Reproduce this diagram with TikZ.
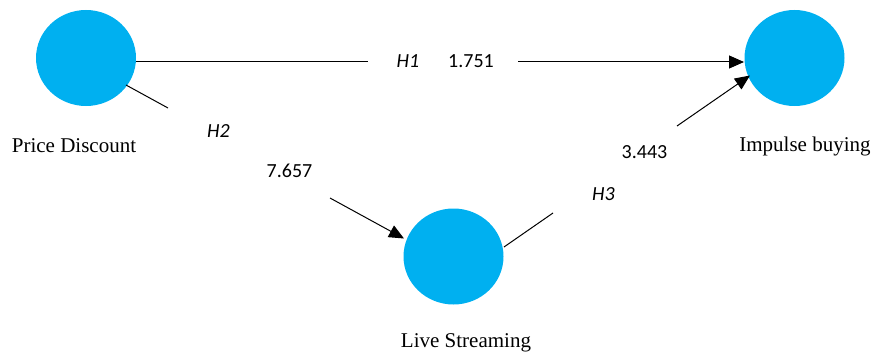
\documentclass[tikz,border=0pt]{standalone}
\usepackage{fontspec}
\setmainfont{Liberation Serif}
\newfontfamily\numfont{Carlito}
\usetikzlibrary{arrows.meta,shapes.geometric}
\definecolor{lvblue}{HTML}{00B0F0}
\tikzset{
  latent/.style={ellipse, fill=lvblue, draw=none, minimum width=100pt, minimum height=96pt, inner sep=0pt},
  cname/.style={font=\fontsize{21}{24}\selectfont, inner sep=0pt, anchor=base},
  val/.style={font=\numfont\fontsize{20}{24}\selectfont, inner sep=0pt, anchor=base},
  hyp/.style={font=\numfont\itshape\fontsize{20}{24}\selectfont, inner sep=0pt, anchor=base},
  path/.style={line width=1pt, black},
  tip/.style={-{Triangle[length=15pt,width=13pt]}}
}
\begin{document}
\begin{tikzpicture}[x=1pt,y=-1pt]
\useasboundingbox (0,0) rectangle (875,353);
\node[latent] (pd) at (86,58) {};
\node[latent] (ib) at (794.5,58) {};
\node[latent] (ls) at (453.5,256.5) {};
\node[cname] (pdl) at (74,152) {Price Discount};
\node[cname] (ibl) at (805,151.5) {Impulse buying};
\node[cname] (lsl) at (466,347) {Live Streaming};
% H1
\coordinate (h1a) at (368,62);
\coordinate (h1b) at (518,62);
\coordinate (h1s) at (136,62);
\coordinate (h1e) at (744,62);
\draw[path] (h1s) -- (h1a);
\draw[path,tip] (h1b) -- (h1e);
\node[hyp] (h1) at (408,67) {H1};
\node[val] (v1) at (471,67) {1.751};
% H2
\coordinate (h2s) at (126,85);
\coordinate (h2a) at (168,108);
\coordinate (h2b) at (330,198);
\coordinate (h2e) at (404,238.5);
\draw[path] (h2s) -- (h2a);
\draw[path,tip] (h2b) -- (h2e);
\node[hyp] (h2) at (218.5,137) {H2};
\node[val] (v2) at (289.5,177) {7.657};
% H3
\coordinate (h3s) at (504,247);
\coordinate (h3a) at (553,213);
\coordinate (h3b) at (677,126);
\coordinate (h3e) at (750,75.5);
\draw[path] (h3s) -- (h3a);
\draw[path,tip] (h3b) -- (h3e);
\node[hyp] (h3) at (603.5,200) {H3};
\node[val] (v3) at (644.5,158) {3.443};
\end{tikzpicture}
\end{document}
